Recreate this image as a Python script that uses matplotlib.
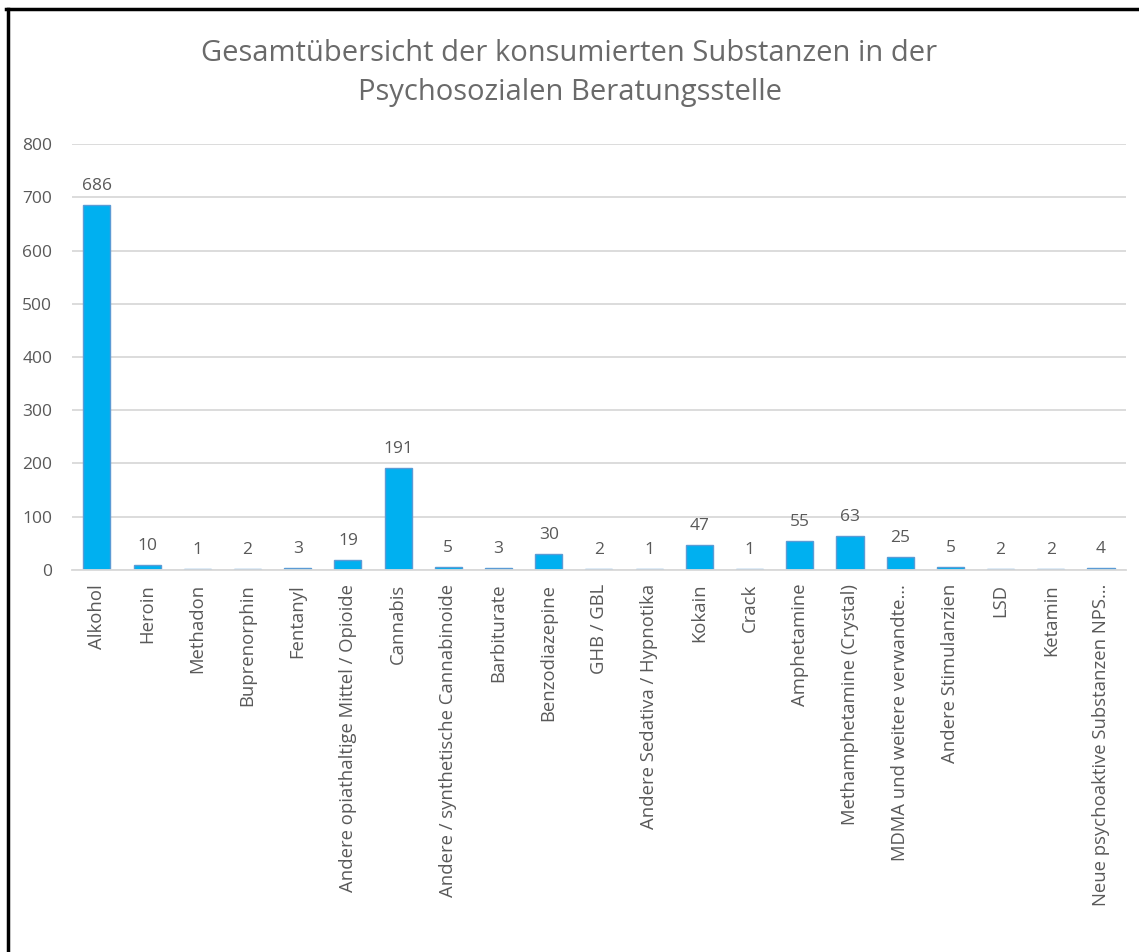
import matplotlib
matplotlib.use("Agg")
import matplotlib.pyplot as plt
from matplotlib.lines import Line2D

# Substanzen und Anzahl der Nennungen
substanzen = [
    "Alkohol", "Heroin", "Methadon", "Buprenorphin", "Fentanyl",
    "Andere opiathaltige Mittel / Opioide", "Cannabis",
    "Andere / synthetische Cannabinoide", "Barbiturate", "Benzodiazepine",
    "GHB / GBL", "Andere Sedativa / Hypnotika", "Kokain", "Crack",
    "Amphetamine", "Methamphetamine (Crystal)", "MDMA und weitere verwandte…",
    "Andere Stimulanzien", "LSD", "Ketamin", "Neue psychoaktive Substanzen NPS…",
]
anzahl = [686, 10, 1, 2, 3, 19, 191, 5, 3, 30, 2, 1, 47, 1, 55, 63, 25, 5, 2, 2, 4]
y_ticks = [0, 100, 200, 300, 400, 500, 600, 700, 800]

grau = "#595959"
plt.rcParams["font.family"] = ["Open Sans", "DejaVu Sans"]

fig = plt.figure(figsize=(11.39, 9.52), dpi=100)
ax = fig.add_axes([0.063, 0.4013, 0.9257, 0.4474])

x = list(range(len(substanzen)))
bars = ax.bar(x, anzahl, width=0.54, color="#00B0F0", edgecolor="#5B9BD5",
              linewidth=1.0, zorder=3)
for b, v in zip(bars, anzahl):
    ax.annotate(str(v), (b.get_x() + b.get_width() / 2, v), xytext=(0, 8),
                textcoords="offset points", ha="center", va="bottom",
                fontsize=12.5, color=grau)

ax.set_xlim(-0.5, len(substanzen) - 0.5)
ax.set_ylim(0, 800)
ax.set_yticks(y_ticks)
ax.set_xticks(x)
ax.set_xticklabels(substanzen, rotation=90, fontsize=13.3, color=grau)
ax.tick_params(axis="y", labelsize=12.5, labelcolor=grau, length=0, pad=14)
ax.tick_params(axis="x", length=0, pad=10)
ax.grid(axis="y", color="#D9D9D9", linewidth=1.3, zorder=0)
for s in ["top", "right", "left"]:
    ax.spines[s].set_visible(False)
ax.spines["bottom"].set_color("#D9D9D9")
ax.spines["bottom"].set_linewidth(1.3)
ax.spines["bottom"].set_zorder(4)

fig.text(0.5, 0.959, "Gesamtübersicht der konsumierten Substanzen in der\nPsychosozialen Beratungsstelle",
         ha="center", va="top", fontsize=21, color="#6a6a6a", linespacing=1.45)

# schwarzer Rahmen oben und links
fig.add_artist(Line2D([0.005, 1.0], [0.9905, 0.9905], color="black", linewidth=2.5))
fig.add_artist(Line2D([0.007, 0.007], [0.0, 0.9905], color="black", linewidth=2.5))

fig.savefig("out.png", dpi=100, facecolor="white")
